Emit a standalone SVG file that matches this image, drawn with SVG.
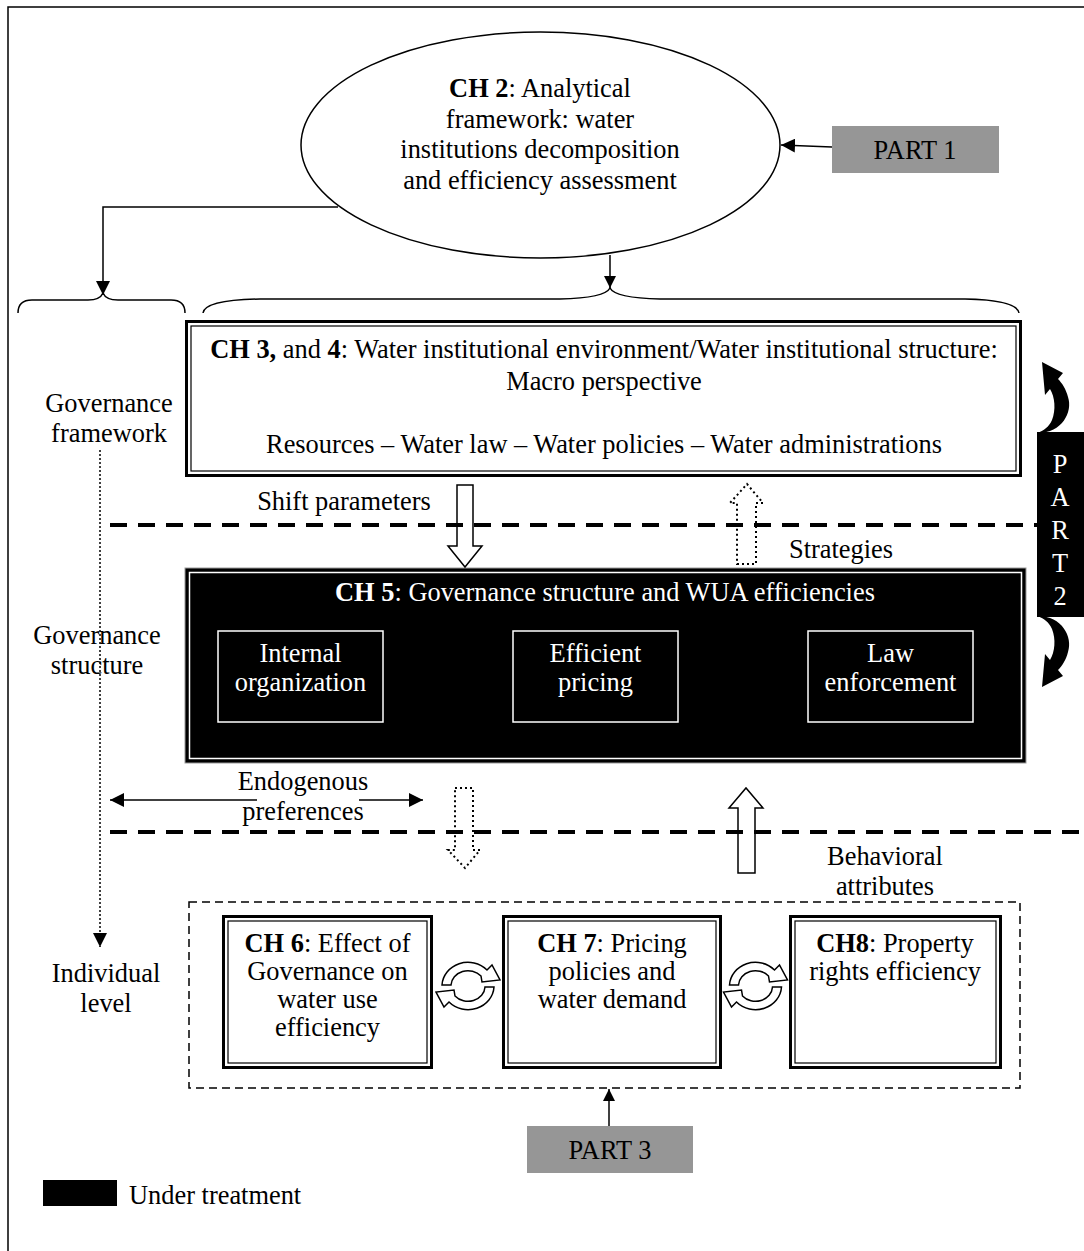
<svg xmlns="http://www.w3.org/2000/svg" width="1084" height="1251" viewBox="0 0 1084 1251">
  <style>
    .t { font-family: "Liberation Serif", "Times New Roman", serif; font-size: 26.4px; fill: #000; }
    .c { text-anchor: middle; }
    .w { fill: #fff; }
    .b { font-weight: bold; }
    .ln { fill: none; stroke: #000; stroke-width: 1.5; }
    .thick { fill: none; stroke: #000; stroke-width: 3; }
    .thin { fill: none; stroke: #000; stroke-width: 1.2; }
    .sep { fill: none; stroke: #000; stroke-width: 4; stroke-dasharray: 17 11; }
    .hollow { fill: none; stroke: #000; stroke-width: 1.5; }
    .dotted { fill: none; stroke: #000; stroke-width: 2; stroke-dasharray: 2 3; }
    .gray { fill: #969696; }
    .cyc { fill: #fff; stroke: #000; stroke-width: 1.5; stroke-linejoin: miter; }
  </style>
  <defs>
    <marker id="ah" viewBox="0 0 14 14" refX="14" refY="7" markerWidth="14" markerHeight="14" markerUnits="userSpaceOnUse" orient="auto">
      <path d="M0,0 L14,7 L0,14 Z" fill="#000"/>
    </marker>
    <marker id="ahs" viewBox="0 0 12 12" refX="12" refY="6" markerWidth="12" markerHeight="12" markerUnits="userSpaceOnUse" orient="auto">
      <path d="M0,0 L12,6 L0,12 Z" fill="#000"/>
    </marker>
    <!-- pair of circular arrows used between the chapter boxes -->
    <g id="cycle">
      <path class="cyc" d="M -26,-1 A 26 24 0 0 1 19,-16 L 24,-21 L 32,-6 L 14,-4 L 13,-10 A 17 15 0 0 0 -17,-1 Z"/>
      <path class="cyc" d="M 26,1 A 26 24 0 0 1 -19,16 L -24,21 L -32,6 L -14,4 L -13,10 A 17 15 0 0 0 17,1 Z"/>
    </g>
    <!-- curved black arrow beside the PART 2 tab -->
    <path id="hook" d="M 1038,433 C 1062,433 1073,412 1068,397 C 1066,389 1062,383 1058,379 L 1063,373 L 1042,362 L 1045,395 L 1050,389 C 1055,397 1056,410 1052,420 C 1049,427 1044,430 1038,433 Z" fill="#000"/>
  </defs>

  <rect width="1084" height="1251" fill="#fff"/>
  <!-- page frame -->
  <rect x="8" y="7" width="1100" height="1300" class="ln"/>

  <!-- level separators -->
  <line x1="110" y1="525" x2="1084" y2="525" class="sep"/>
  <line x1="110" y1="832" x2="1084" y2="832" class="sep"/>

  <!-- braces -->
  <g id="braces">
    <path class="ln" d="M 18,313 Q 18,300 32,300 H 88 Q 100,300 103,293 Q 106,300 118,300 H 171 Q 185,300 185,313"/>
    <path class="ln" d="M 203,313 Q 205,300 260,299 H 560 Q 605,298 610,288 Q 615,298 660,299 H 965 Q 1017,300 1019,313"/>
  </g>

  <!-- side labels -->
  <g id="level-labels">
    <text class="t c" x="109" y="412">Governance</text>
    <text class="t c" x="109" y="442">framework</text>
    <text class="t c" x="97" y="644">Governance</text>
    <text class="t c" x="97" y="674">structure</text>
    <text class="t c" x="106" y="982">Individual</text>
    <text class="t c" x="106" y="1012">level</text>
  </g>

  <g id="ch2">
    <ellipse cx="540.5" cy="145" rx="239.5" ry="113" class="ln" fill="#fff"/>
    <text class="t c" x="540" y="97"><tspan class="b">CH 2</tspan>: Analytical</text>
    <text class="t c" x="540" y="128">framework: water</text>
    <text class="t c" x="540" y="158">institutions decomposition</text>
    <text class="t c" x="540" y="189">and efficiency assessment</text>
  </g>

  <g id="part1">
    <rect x="832" y="126" width="167" height="47" class="gray"/>
    <text class="t c" x="915" y="159">PART 1</text>
  </g>

  <g id="ch3-4">
    <rect x="186.5" y="321.5" width="834" height="154" class="thick"/>
    <rect x="191" y="326" width="825" height="145" class="thin"/>
    <text class="t c" x="604" y="358"><tspan class="b">CH 3,</tspan> and <tspan class="b">4</tspan>: Water institutional environment/Water institutional structure:</text>
    <text class="t c" x="604" y="390">Macro perspective</text>
    <text class="t c" x="604" y="453">Resources – Water law – Water policies – Water administrations</text>
  </g>

  <g id="part2">
    <rect x="1037" y="432" width="50" height="185" fill="#000"/>
    <text class="t c w" x="1060" y="473">P</text>
    <text class="t c w" x="1060" y="506">A</text>
    <text class="t c w" x="1060" y="539">R</text>
    <text class="t c w" x="1060" y="572">T</text>
    <text class="t c w" x="1060" y="605">2</text>
    <use href="#hook"/>
    <use href="#hook" transform="matrix(1,0,0,-1,0,1049)"/>
  </g>

  <g id="ch5">
    <rect x="185" y="568" width="841" height="195" fill="#000" stroke="#999" stroke-width="1"/>
    <rect x="189.5" y="572.5" width="832" height="186" fill="none" stroke="#fff" stroke-width="1.5"/>
    <text class="t c w" x="605" y="601"><tspan class="b">CH 5</tspan>: Governance structure and WUA efficiencies</text>
  </g>
  <g id="internal-organization">
    <rect x="218" y="631" width="165" height="91" fill="none" stroke="#fff" stroke-width="1.5"/>
    <text class="t c w" x="300.5" y="662">Internal</text>
    <text class="t c w" x="300.5" y="691">organization</text>
  </g>
  <g id="efficient-pricing">
    <rect x="513" y="631" width="165" height="91" fill="none" stroke="#fff" stroke-width="1.5"/>
    <text class="t c w" x="595.5" y="662">Efficient</text>
    <text class="t c w" x="595.5" y="691">pricing</text>
  </g>
  <g id="law-enforcement">
    <rect x="808" y="631" width="165" height="91" fill="none" stroke="#fff" stroke-width="1.5"/>
    <text class="t c w" x="890.5" y="662">Law</text>
    <text class="t c w" x="890.5" y="691">enforcement</text>
  </g>

  <!-- flows between levels -->
  <g id="flows">
    <polygon class="hollow" points="457,485 473,485 473,546 482,546 465,567 448,546 457,546"/>
    <text class="t c" x="344" y="510">Shift parameters</text>
    <polygon class="dotted" points="737,564 756,564 756,503 763,503 747,484 730,503 737,503"/>
    <text class="t c" x="841" y="558">Strategies</text>
    <polygon class="dotted" points="455,788 473,788 473,850 480,850 465,868 448,850 455,850"/>
    <text class="t c" x="303" y="790">Endogenous</text>
    <text class="t c" x="303" y="820">preferences</text>
    <polygon class="hollow" points="738,873 755,873 755,808 763,808 746,788 729,808 738,808"/>
    <text class="t c" x="885" y="865">Behavioral</text>
    <text class="t c" x="885" y="895">attributes</text>
  </g>

  <g id="individual-level">
    <rect x="189" y="902" width="831" height="186" fill="none" stroke="#000" stroke-width="1.5" stroke-dasharray="8 5"/>
  </g>

  <g id="ch6">
    <rect x="223.5" y="916.5" width="208" height="151" class="thick" fill="#fff"/>
    <rect x="228" y="921" width="199" height="142" class="thin"/>
    <text class="t c" x="327.5" y="952"><tspan class="b">CH 6</tspan>: Effect of</text>
    <text class="t c" x="327.5" y="980">Governance on</text>
    <text class="t c" x="327.5" y="1008">water use</text>
    <text class="t c" x="327.5" y="1036">efficiency</text>
  </g>
  <g id="ch7">
    <rect x="503.5" y="916.5" width="217" height="151" class="thick" fill="#fff"/>
    <rect x="508" y="921" width="208" height="142" class="thin"/>
    <text class="t c" x="612" y="952"><tspan class="b">CH 7</tspan>: Pricing</text>
    <text class="t c" x="612" y="980">policies and</text>
    <text class="t c" x="612" y="1008">water demand</text>
  </g>
  <g id="ch8">
    <rect x="790.5" y="916.5" width="210" height="151" class="thick" fill="#fff"/>
    <rect x="795" y="921" width="201" height="142" class="thin"/>
    <text class="t c" x="895" y="952"><tspan class="b">CH8</tspan>: Property</text>
    <text class="t c" x="895" y="980">rights efficiency</text>
  </g>
  <use href="#cycle" x="468" y="986"/>
  <use href="#cycle" x="755.5" y="986"/>

  <g id="part3">
    <rect x="527" y="1126" width="166" height="47" class="gray"/>
    <text class="t c" x="610" y="1159">PART 3</text>
  </g>

  <g id="legend">
    <rect x="43" y="1180" width="74" height="26" fill="#000"/>
    <text class="t" x="129" y="1204">Under treatment</text>
  </g>

  <!-- connectors -->
  <g id="connectors">
    <line x1="832" y1="147" x2="781" y2="145" class="ln" marker-end="url(#ah)"/>
    <path d="M 338,207 H 103 V 295" class="ln" marker-end="url(#ah)"/>
    <path d="M 610,255 V 288" class="ln" marker-end="url(#ahs)"/>
    <path d="M 609,1126 V 1089" class="ln" marker-end="url(#ahs)"/>
    <path d="M 257,800 H 110" class="ln" marker-end="url(#ah)"/>
    <path d="M 359,800 H 423" class="ln" marker-end="url(#ah)"/>
    <path d="M 100,450 V 947" fill="none" stroke="#000" stroke-width="1.5" stroke-dasharray="2 2" marker-end="url(#ah)"/>
  </g>
</svg>
